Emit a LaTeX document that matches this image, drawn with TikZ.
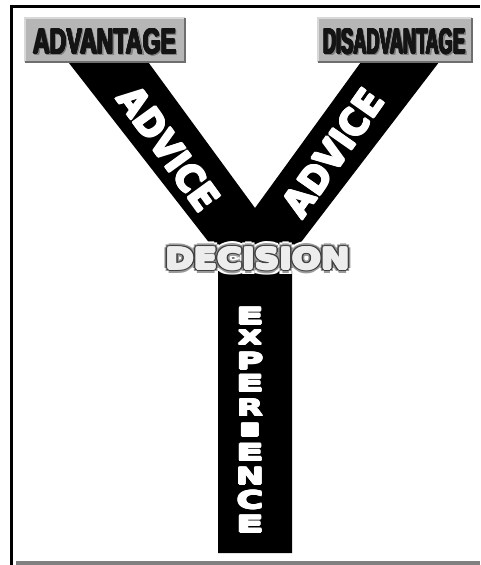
\documentclass[tikz,border=0pt]{standalone}
\usepackage{fontspec}
\setmainfont{Liberation Sans}
\newfontfamily\heavy{DejaVu Sans}
\usepackage{graphicx}
\definecolor{boxgray}{HTML}{B6B6B6}
\definecolor{boxlight}{HTML}{D8D8D8}
\definecolor{boxdark}{HTML}{6E6E6E}
\definecolor{framegray}{HTML}{808080}
\definecolor{ink}{HTML}{141414}
\definecolor{outl}{HTML}{404040}
\definecolor{glow}{HTML}{9A9A9A}
\definecolor{decfill}{HTML}{EDEDED}
\newcommand{\dectxt}{\resizebox{184pt}{21pt}{\heavy\bfseries DECISION}}
\newcommand{\advicetxt}[2]{\resizebox{#1}{#2}{\heavy\bfseries ADVICE}}
\newcommand{\expl}[3]{\resizebox{#2}{#3}{\heavy\bfseries #1}}
% #1 name, #2 position, #3 radius, #4 style, #5 rotation, #6 content
\newcommand{\thicktext}[6]{%
  \foreach \a in {0,45,...,315}
    \path #2 ++(\a:#3) node[#4, rotate=#5] (#1\a) {#6};
  \node[#4, rotate=#5] (#1) at #2 {#6};}
\begin{document}
\begin{tikzpicture}[x=1pt,y=-1pt,
  every node/.style={inner sep=0pt, outer sep=0pt},
  labelbox/.style={fill=boxgray, draw=none},
  bevellight/.style={boxlight, line width=1.5pt},
  beveldark/.style={boxdark, line width=2pt},
  boxtext/.style={text=ink},
  boxshadow/.style={text=gray},
  bandtext/.style={text=white}]
\useasboundingbox (0,0) rectangle (480,565);
\fill[white] (0,0) rectangle (480,565);
% frame
\coordinate (fbl) at (11.6,565);
\coordinate (ftr) at (480,6.6);
\draw[line width=3.3pt] (fbl) |- (ftr);
\coordinate (gl) at (16,563);
\coordinate (gr) at (480,563);
\draw[framegray, line width=4pt] (gl) -- (gr);
% the Y band
\fill[black] (51,40) -- (132,40) -- (255,208) -- (377,40) -- (456,40) -- (292,254)
  -- (292,553) -- (218,553) -- (218,254) -- cycle;
% boxes
\node[labelbox, minimum width=160pt, minimum height=44pt] (advbox) at (105,40) {};
\draw[bevellight] (advbox.south west) |- (advbox.north east);
\draw[beveldark] (advbox.south west) -| (advbox.north east);
\thicktext{advsh}{(106.2,42.7)}{0.6}{boxshadow}{0}{\resizebox{143pt}{25pt}{\bfseries ADVANTAGE}}
\thicktext{advt}{(105,41.5)}{0.6}{boxtext}{0}{\resizebox{143pt}{25pt}{\bfseries ADVANTAGE}}
\node[labelbox, minimum width=154pt, minimum height=44pt] (disbox) at (395,40) {};
\draw[bevellight] (disbox.south west) |- (disbox.north east);
\draw[beveldark] (disbox.south west) -| (disbox.north east);
\thicktext{dissh}{(395.7,42.7)}{0.6}{boxshadow}{0}{\resizebox{142pt}{25pt}{\bfseries DISADVANTAGE}}
\thicktext{dist}{(394.5,41.5)}{0.6}{boxtext}{0}{\resizebox{142pt}{25pt}{\bfseries DISADVANTAGE}}
% advice texts
\thicktext{advl}{(169,148.5)}{1}{bandtext}{-54}{\advicetxt{143pt}{28pt}}
\thicktext{advr}{(333,153)}{1}{bandtext}{55}{\advicetxt{145pt}{28pt}}
% decision
\foreach \a in {0,30,...,330}
  \path (257.5,258.5) ++(\a:6) node[text=white] (dh\a) {\dectxt};
\thicktext{dglow}{(257.5,258.5)}{4.2}{text=glow}{0}{\dectxt}
\thicktext{dout}{(257.5,258.5)}{2.8}{text=outl}{0}{\dectxt}
\thicktext{dec}{(257.5,258.5)}{1.3}{text=decfill}{0}{\dectxt}
% experience
\thicktext{exa}{(250,316)}{0.9}{bandtext}{0}{\expl{E}{28pt}{16.5pt}}
\thicktext{exb}{(250,337.5)}{0.9}{bandtext}{0}{\expl{X}{24pt}{14pt}}
\thicktext{exc}{(250,361)}{0.9}{bandtext}{0}{\expl{P}{27pt}{16.5pt}}
\thicktext{exd}{(250,383.5)}{0.9}{bandtext}{0}{\expl{E}{28pt}{16.5pt}}
\thicktext{exe}{(250,407.5)}{0.9}{bandtext}{0}{\expl{R}{26pt}{17pt}}
\thicktext{exf}{(250,430)}{0.9}{bandtext}{0}{\expl{I}{32pt}{12.5pt}}
\thicktext{exg}{(250,452.5)}{0.9}{bandtext}{0}{\expl{E}{28pt}{16.5pt}}
\thicktext{exh}{(250,476)}{0.9}{bandtext}{0}{\expl{N}{28pt}{16.5pt}}
\thicktext{exi}{(250,500)}{0.9}{bandtext}{0}{\expl{C}{27pt}{17.5pt}}
\thicktext{exj}{(250,524)}{0.9}{bandtext}{0}{\expl{E}{28pt}{16.5pt}}
\end{tikzpicture}
\end{document}
